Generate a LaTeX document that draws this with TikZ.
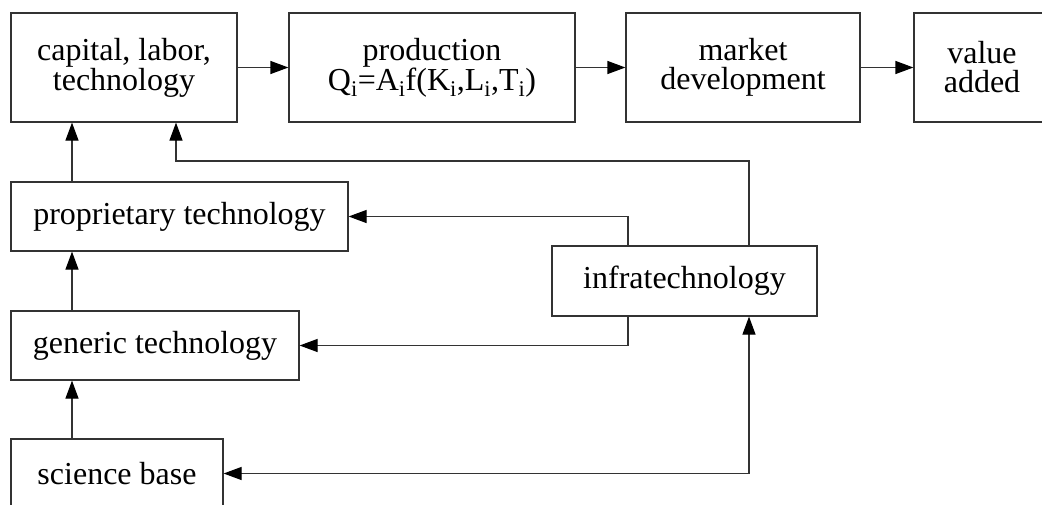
\documentclass[tikz,border=0pt]{standalone}
\usepackage{fontspec}
\setmainfont{Liberation Serif}
\usetikzlibrary{arrows.meta,calc}
\begin{document}
\begin{tikzpicture}[x=1pt,y=-1pt,
  box/.style={draw=black!80,line width=1.2pt,inner sep=0pt,align=center,
    font=\fontsize{32pt}{29pt}\selectfont,anchor=center},
  conn/.style={draw=black!80,line width=1.2pt},
  arr/.style={conn,-{Triangle[length=18pt,width=13pt,color=black]}},
  biarr/.style={conn,{Triangle[length=18pt,width=13pt,color=black]}-{Triangle[length=18pt,width=13pt,color=black]}}]
\useasboundingbox (0,0) rectangle (1042,504);
\clip (0,0) rectangle (1042,504);
\node[box,minimum width=226pt,minimum height=109pt] (cap) at (124,67.5) {capital, labor,\\technology};
\node[box,minimum width=286pt,minimum height=109pt] (prod) at (432,67.5) {production\\Q\textsubscript{i}=A\textsubscript{i}f(K\textsubscript{i},L\textsubscript{i},T\textsubscript{i})};
\node[box,minimum width=234pt,minimum height=109pt] (mkt) at (743,67.5) {market\\development};
\node[box,minimum width=136pt,minimum height=109pt] (val) at (982,67.5) {value\\added};
\node[box,minimum width=337pt,minimum height=69pt] (prop) at (179.5,216.5) {proprietary technology};
\node[box,minimum width=288pt,minimum height=69pt] (gen) at (155,345.5) {generic technology};
\node[box,minimum width=212pt,minimum height=69pt] (sci) at (117,473.5) {science base};
\node[box,minimum width=265pt,minimum height=70pt] (infra) at (684.5,281) {infratechnology};
\coordinate (xv) at (72,0);
\coordinate (ia) at (749,0);
\coordinate (ic) at (628,0);
\coordinate (ib) at (176,161);
\draw[arr] (cap) -- (prod);
\draw[arr] (prod) -- (mkt);
\draw[arr] (mkt) -- (val);
\draw[arr] (prop.north -| xv) -- (cap.south -| xv);
\draw[arr] (gen.north -| xv) -- (prop.south -| xv);
\draw[arr] (sci.north -| xv) -- (gen.south -| xv);
\draw[arr] (infra.north -| ia) |- (ib) -- (cap.south -| ib);
\draw[arr] (infra.north -| ic) |- (prop.east);
\draw[arr] (infra.south -| ic) |- (gen.east);
\draw[biarr] (sci.east) -| (infra.south -| ia);
\end{tikzpicture}
\end{document}
